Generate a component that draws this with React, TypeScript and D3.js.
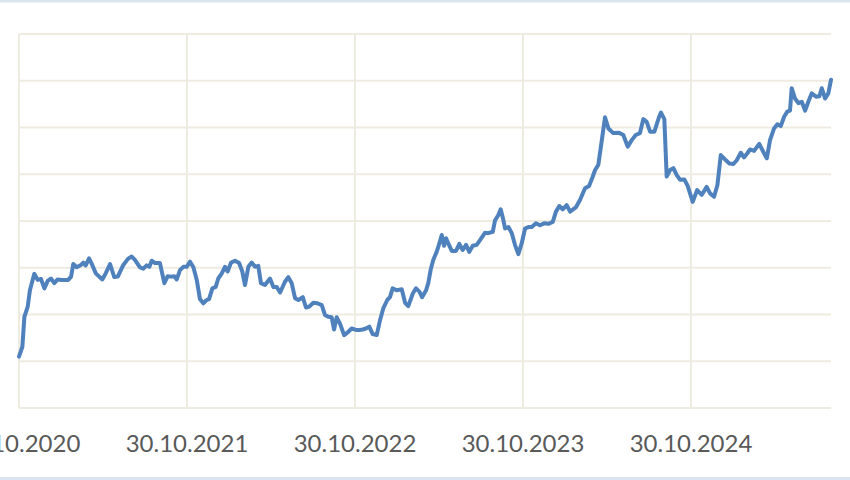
import React from "react";
import * as d3 from "d3";

// time in years since 30.10.2020
const times: number[] = [
  0, 0.020, 0.032, 0.052, 0.065, 0.091, 0.111, 0.131, 0.151, 0.171, 0.190, 0.210, 0.230, 0.254, 0.293,
  0.310, 0.323, 0.343, 0.369, 0.383, 0.397, 0.417, 0.436, 0.457, 0.496, 0.516, 0.542, 0.567, 0.588,
  0.621, 0.651, 0.671, 0.690, 0.720, 0.740, 0.760, 0.776, 0.790, 0.810, 0.839, 0.865, 0.885, 0.909,
  0.924, 0.939, 0.958, 0.978, 0.998, 1.018, 1.038, 1.058, 1.077, 1.097, 1.117, 1.131, 1.151, 1.171,
  1.186, 1.207, 1.226, 1.242, 1.262, 1.286, 1.310, 1.329, 1.345, 1.365, 1.385, 1.405, 1.424, 1.440,
  1.464, 1.494, 1.514, 1.534, 1.554, 1.583, 1.603, 1.623, 1.643, 1.663, 1.689, 1.708, 1.728, 1.752,
  1.776, 1.802, 1.821, 1.841, 1.861, 1.875, 1.891, 1.911, 1.935, 1.960, 1.980, 2.006, 2.026, 2.046,
  2.065, 2.085, 2.105, 2.129, 2.149, 2.168, 2.192, 2.208, 2.224, 2.248, 2.278, 2.298, 2.317, 2.344,
  2.363, 2.383, 2.399, 2.423, 2.436, 2.451, 2.466, 2.486, 2.502, 2.516, 2.530, 2.542, 2.555, 2.576,
  2.601, 2.621, 2.641, 2.661, 2.680, 2.701, 2.724, 2.744, 2.774, 2.793, 2.820, 2.833, 2.853, 2.867,
  2.883, 2.893, 2.913, 2.933, 2.952, 2.972, 2.992, 3.012, 3.032, 3.052, 3.077, 3.101, 3.125, 3.151,
  3.177, 3.196, 3.216, 3.236, 3.260, 3.280, 3.314, 3.339, 3.369, 3.393, 3.413, 3.429, 3.448, 3.469,
  3.488, 3.508, 3.537, 3.571, 3.597, 3.623, 3.647, 3.671, 3.696, 3.716, 3.736, 3.756, 3.782, 3.810,
  3.821, 3.841, 3.855, 3.875, 3.895, 3.915, 3.935, 3.960, 3.980, 4.000, 4.010, 4.036, 4.064, 4.093,
  4.113, 4.137, 4.157, 4.177, 4.202, 4.228, 4.252, 4.272, 4.296, 4.315, 4.335, 4.351, 4.375, 4.406,
  4.430, 4.451, 4.470, 4.494, 4.514, 4.534, 4.554, 4.573, 4.589, 4.599, 4.619, 4.639, 4.659, 4.679,
  4.698, 4.718, 4.744, 4.764, 4.778, 4.798, 4.817, 4.833,
];

const values: number[] = [
  11.0, 13.1, 19.5, 21.7, 25.2, 28.7, 27.4, 27.6, 25.6, 27.2, 27.7, 26.7, 27.5, 27.4, 27.4,
  28.1, 30.8, 30.1, 30.6, 31.1, 30.5, 32.0, 30.6, 28.8, 27.5, 28.8, 30.8, 28.0, 28.1,
  30.6, 32.0, 32.4, 31.7, 30.1, 29.8, 30.5, 30.2, 31.5, 31.0, 31.0, 26.7, 28.2, 28.1,
  28.2, 27.5, 29.5, 30.2, 30.2, 31.3, 30.1, 27.4, 23.3, 22.4, 23.1, 23.3, 25.6, 25.9,
  27.7, 28.8, 30.2, 29.2, 31.1, 31.5, 31.0, 29.2, 26.3, 30.2, 31.1, 30.2, 30.4, 26.7,
  26.3, 27.7, 25.9, 25.9, 24.7, 27.0, 28.0, 26.7, 23.5, 23.1, 23.7, 21.5, 21.7, 22.5,
  22.4, 22.0, 19.9, 19.5, 19.4, 16.8, 19.4, 18.0, 15.6, 16.3, 17.0, 16.7, 16.7, 16.8,
  17.0, 17.4, 15.8, 15.6, 18.8, 21.3, 23.1, 23.7, 25.6, 25.2, 25.4, 22.5, 21.8, 24.5,
  25.6, 24.9, 23.7, 25.2, 26.7, 29.7, 31.7, 33.4, 35.2, 37.0, 34.7, 36.3, 35.2, 33.6,
  33.6, 35.1, 33.8, 34.9, 33.4, 34.7, 34.9, 35.9, 37.5, 37.4, 37.7, 40.1, 41.3, 42.5,
  40.2, 38.4, 38.7, 37.4, 34.9, 32.9, 35.2, 38.4, 38.7, 38.7, 39.5, 39.1, 39.5, 39.4,
  39.8, 42.0, 43.2, 42.5, 43.4, 42.0, 42.9, 44.5, 47.0, 47.5, 49.3, 50.9, 52.0, 57.3,
  62.2, 59.8, 58.8, 58.9, 58.4, 55.9, 57.3, 58.4, 58.8, 61.8, 61.2, 59.1, 59.1, 62.3,
  63.2, 61.8, 49.5, 50.9, 51.3, 49.8, 48.8, 48.9, 47.5, 45.2, 44.1, 46.6, 45.6, 47.3,
  45.9, 45.2, 47.7, 54.1, 53.2, 52.3, 52.2, 53.0, 54.6, 53.6, 54.5, 55.3, 55.0, 56.5,
  54.8, 53.4, 57.3, 59.8, 60.7, 60.3, 62.3, 63.4, 63.6, 68.4, 66.2, 65.2, 65.5, 63.6,
  65.5, 67.3, 66.6, 66.7, 68.4, 66.2, 67.3, 70.2,
];

const tickYears: number[] = [0, 1, 2, 3, 4];
const tickLabels: string[] = ["30.10.2020", "30.10.2021", "30.10.2022", "30.10.2023", "30.10.2024"];
const yTicks: number[] = [0, 10, 20, 30, 40, 50, 60, 70, 80];

export default function App() {
  if (typeof document !== "undefined") document.body.style.margin = "0";
  const W = 850, H = 480;
  const left = 19, right = 831, top = 34, bottom = 408;
  const x = d3.scaleLinear().domain([0, 4.833]).range([left, right]);
  const y = d3.scaleLinear().domain([0, 80]).range([bottom, top]);
  const pts = times.map((t, i) => [t, values[i]] as [number, number]);
  const line = d3.line<[number, number]>().x(d => x(d[0])).y(d => y(d[1]));
  const grid = "#eeebe1";
  return (
    <svg width={W} height={H} style={{ display: "block" }}>
      <rect x={0} y={0} width={W} height={H} fill="#ffffff" />
      <line x1={0} x2={W} y1={1} y2={1} stroke="#dbe5f1" strokeWidth={3} />
      <line x1={0} x2={W} y1={478.5} y2={478.5} stroke="#dbe5f1" strokeWidth={3} />
      {yTicks.map(v => (
        <line key={"h" + v} x1={left} x2={right} y1={y(v)} y2={y(v)} stroke={grid} strokeWidth={2} />
      ))}
      {tickYears.map(t => (
        <line key={"v" + t} x1={x(t)} x2={x(t)} y1={top} y2={bottom} stroke={grid} strokeWidth={2} />
      ))}
      <path d={line(pts) || ""} fill="none" stroke="#4f81bd" strokeWidth={4} strokeLinejoin="round" strokeLinecap="round" />
      {tickYears.map((t, i) => (
        <text key={"l" + t} x={x(t)} y={452} textAnchor="middle" fontFamily="Lato, 'Open Sans', sans-serif" fontSize={24} fill="#595959">
          {tickLabels[i]}
        </text>
      ))}
    </svg>
  );
}
